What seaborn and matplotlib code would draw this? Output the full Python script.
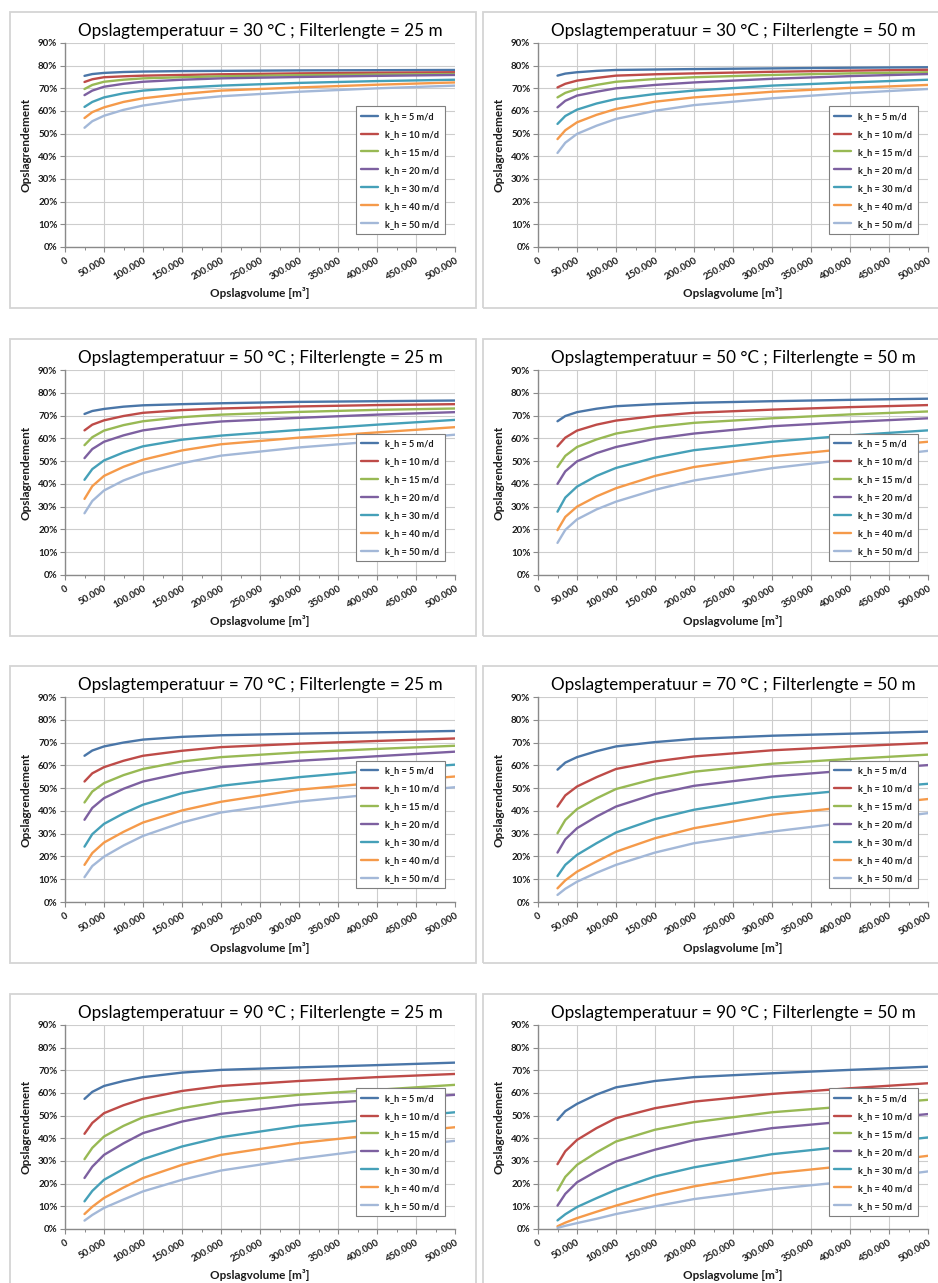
import numpy as np
import pandas as pd
import matplotlib
matplotlib.use("Agg")
import matplotlib.pyplot as plt
import seaborn as sns
from matplotlib.patches import Rectangle
from matplotlib.ticker import FuncFormatter, MultipleLocator

sns.set_theme(style="white")
plt.rcParams["font.family"] = ["Lato", "DejaVu Sans"]

# ---------------- data ----------------
volume = [25000, 35000, 50000, 75000, 100000, 150000, 200000, 300000, 400000, 500000]
k_labels = ["k_h = 5 m/d", "k_h = 10 m/d", "k_h = 15 m/d", "k_h = 20 m/d",
            "k_h = 30 m/d", "k_h = 40 m/d", "k_h = 50 m/d"]
x_tick_labels = ["0", "50.000", "100.000", "150.000", "200.000", "250.000",
                 "300.000", "350.000", "400.000", "450.000", "500.000"]
titles = [
    "Opslagtemperatuur = 30 °C ; Filterlengte = 25 m",
    "Opslagtemperatuur = 30 °C ; Filterlengte = 50 m",
    "Opslagtemperatuur = 50 °C ; Filterlengte = 25 m",
    "Opslagtemperatuur = 50 °C ; Filterlengte = 50 m",
    "Opslagtemperatuur = 70 °C ; Filterlengte = 25 m",
    "Opslagtemperatuur = 70 °C ; Filterlengte = 50 m",
    "Opslagtemperatuur = 90 °C ; Filterlengte = 25 m",
    "Opslagtemperatuur = 90 °C ; Filterlengte = 50 m",
]

# rendement (%) per k_h, values at the volumes above
t30_l25 = [
    [75.5, 76.3, 76.8, 77.2, 77.4, 77.6, 77.7, 77.9, 78.0, 78.1],
    [72.8, 74.0, 74.9, 75.3, 75.6, 75.9, 76.2, 76.6, 76.9, 77.1],
    [69.7, 71.5, 72.9, 73.8, 74.4, 74.9, 75.3, 75.8, 76.1, 76.3],
    [67.0, 69.0, 70.7, 72.0, 72.9, 73.8, 74.4, 75.0, 75.5, 75.9],
    [61.8, 64.0, 66.0, 67.8, 69.0, 70.3, 71.2, 72.4, 73.2, 73.8],
    [56.9, 59.5, 61.6, 64.0, 65.6, 67.5, 69.0, 70.4, 71.6, 72.6],
    [52.6, 55.5, 57.9, 60.5, 62.4, 64.9, 66.5, 68.5, 70.0, 71.2],
]
t30_l50 = [
    [75.6, 76.5, 77.1, 77.7, 78.1, 78.3, 78.5, 78.8, 79.1, 79.3],
    [70.4, 72.0, 73.4, 74.6, 75.6, 76.2, 76.6, 77.3, 77.8, 78.2],
    [66.0, 68.0, 69.7, 71.5, 72.9, 74.1, 74.9, 75.9, 76.6, 77.1],
    [61.6, 64.5, 66.8, 68.5, 70.0, 71.5, 72.6, 74.2, 75.4, 76.3],
    [54.3, 57.8, 60.6, 63.3, 65.3, 67.5, 69.0, 71.2, 72.6, 73.8],
    [47.6, 51.5, 55.0, 58.3, 60.9, 64.1, 66.0, 68.5, 70.2, 71.5],
    [41.5, 46.0, 49.9, 53.5, 56.5, 60.1, 62.6, 65.6, 67.9, 69.7],
]
t50_l25 = [
    [70.7, 72.0, 72.9, 73.9, 74.5, 75.0, 75.4, 76.0, 76.3, 76.6],
    [63.5, 66.0, 67.9, 69.8, 71.2, 72.4, 73.1, 74.0, 74.6, 75.0],
    [57.0, 60.5, 63.4, 65.8, 67.5, 69.3, 70.4, 71.6, 72.5, 73.1],
    [51.3, 55.3, 58.5, 61.3, 63.5, 65.8, 67.4, 69.0, 70.4, 71.5],
    [41.8, 46.5, 50.3, 53.8, 56.5, 59.4, 61.2, 63.7, 66.0, 68.1],
    [33.4, 39.0, 43.5, 47.5, 50.6, 54.7, 57.4, 60.3, 62.6, 64.9],
    [27.1, 32.5, 37.1, 41.5, 44.7, 49.1, 52.4, 56.0, 58.7, 61.6],
]
t50_l50 = [
    [67.5, 69.8, 71.5, 73.0, 74.1, 75.0, 75.6, 76.3, 76.9, 77.4],
    [56.5, 60.3, 63.4, 66.0, 67.8, 69.8, 71.2, 72.6, 73.7, 74.6],
    [47.4, 52.3, 56.2, 59.5, 62.1, 65.0, 66.8, 68.8, 70.5, 71.8],
    [40.0, 45.5, 49.9, 53.5, 56.2, 59.8, 62.1, 65.3, 67.2, 68.8],
    [27.8, 34.0, 38.8, 43.5, 47.0, 51.5, 54.8, 58.5, 61.3, 63.5],
    [19.7, 25.5, 30.0, 34.5, 38.1, 43.5, 47.4, 52.1, 55.5, 58.5],
    [14.1, 19.8, 24.4, 28.8, 32.2, 37.4, 41.5, 46.9, 50.8, 54.5],
]
t70_l25 = [
    [64.2, 66.5, 68.3, 70.0, 71.3, 72.5, 73.2, 73.9, 74.5, 75.1],
    [52.9, 56.5, 59.2, 62.0, 64.2, 66.4, 68.0, 69.5, 70.7, 71.8],
    [43.7, 48.5, 52.2, 55.7, 58.4, 61.7, 63.6, 65.7, 67.2, 68.6],
    [36.1, 41.3, 45.6, 49.7, 52.9, 56.6, 59.2, 62.0, 64.0, 66.0],
    [24.3, 29.8, 34.3, 38.9, 42.7, 47.8, 51.0, 54.8, 57.8, 60.3],
    [16.3, 21.5, 26.1, 30.8, 34.9, 40.2, 44.0, 49.3, 52.4, 55.1],
    [10.9, 15.8, 19.9, 24.8, 29.0, 34.9, 39.3, 44.1, 47.4, 50.4],
]
t70_l50 = [
    [58.1, 61.2, 63.6, 66.2, 68.3, 70.2, 71.6, 73.0, 73.9, 74.8],
    [41.9, 46.8, 50.7, 54.8, 58.4, 61.7, 63.9, 66.6, 68.3, 69.8],
    [30.2, 36.0, 40.8, 45.5, 49.6, 54.1, 57.2, 60.7, 62.8, 64.7],
    [21.7, 27.5, 32.4, 37.5, 41.9, 47.4, 51.0, 55.1, 57.8, 60.1],
    [11.4, 16.3, 20.7, 25.8, 30.5, 36.4, 40.5, 46.0, 49.2, 51.9],
    [6.0, 9.5, 13.3, 17.8, 22.1, 28.0, 32.4, 38.3, 41.8, 45.2],
    [3.1, 5.8, 8.9, 12.8, 16.3, 21.7, 25.8, 30.9, 35.0, 39.0],
]
t90_l25 = [
    [57.4, 60.5, 63.1, 65.3, 67.0, 69.0, 70.2, 71.3, 72.3, 73.4],
    [42.0, 46.8, 51.1, 54.6, 57.4, 60.9, 63.1, 65.3, 67.0, 68.4],
    [30.8, 35.8, 40.8, 45.5, 49.3, 53.3, 56.2, 59.2, 61.4, 63.6],
    [22.5, 27.5, 32.7, 37.8, 42.3, 47.4, 50.8, 54.8, 57.0, 59.2],
    [12.2, 16.8, 21.7, 26.5, 30.8, 36.4, 40.5, 45.5, 48.5, 51.5],
    [6.6, 9.8, 13.7, 18.3, 22.5, 28.3, 32.7, 37.9, 41.6, 44.9],
    [3.7, 6.2, 9.3, 13.0, 16.6, 21.7, 25.8, 31.0, 35.3, 38.9],
]
t90_l50 = [
    [48.1, 52.0, 55.2, 59.3, 62.5, 65.3, 67.0, 68.7, 70.2, 71.6],
    [28.6, 34.3, 39.3, 44.5, 48.9, 53.3, 56.2, 59.6, 62.1, 64.3],
    [17.0, 23.0, 28.3, 33.8, 38.6, 43.8, 47.1, 51.5, 54.2, 57.0],
    [10.3, 15.5, 20.6, 25.5, 29.8, 35.0, 39.2, 44.5, 47.6, 50.7],
    [3.8, 6.5, 9.7, 13.6, 17.3, 23.2, 27.2, 33.0, 36.6, 40.4],
    [1.2, 2.8, 4.8, 7.6, 10.3, 15.1, 18.8, 24.5, 28.0, 32.3],
    [0.5, 1.4, 2.6, 4.5, 6.6, 10.0, 13.2, 17.6, 21.0, 25.4],
]
panels = [t30_l25, t30_l50, t50_l25, t50_l50, t70_l25, t70_l50, t90_l25, t90_l50]

colors = ["#4A76A8", "#BE4B48", "#98B954", "#7D60A0", "#45A0B8", "#F59A4A", "#A3B8D8"]

# ---------------- layout (pixels) ----------------
W, H = 938, 1283
col_plot_x = [(65, 455), (538, 928)]
row_plot_y = [(43, 247), (370, 575), (697, 902), (1025, 1229)]
col_box_x = [(10, 476), (483, 950)]
row_box_y = [(12, 308), (339, 636), (666, 963), (994, 1300)]

fig = plt.figure(figsize=(W / 100, H / 100), dpi=100)
fig.patch.set_facecolor("white")

txt_color = "#1a1a1a"

for i, (title, data) in enumerate(zip(titles, panels)):
    r, c = divmod(i, 2)
    bx0, bx1 = col_box_x[c]
    by0, by1 = row_box_y[r]
    fig.add_artist(Rectangle((bx0 / W, 1 - by1 / H), (bx1 - bx0) / W, (by1 - by0) / H,
                             transform=fig.transFigure, fill=False,
                             edgecolor="#D4D4D4", linewidth=1.3))
    x0, x1 = col_plot_x[c]
    y0, y1 = row_plot_y[r]
    ax = fig.add_axes([x0 / W, 1 - y1 / H, (x1 - x0) / W, (y1 - y0) / H])

    rows = []
    for lab, vals in zip(k_labels, data):
        for v, val in zip(volume, vals):
            rows.append({"volume": v, "rendement": val, "k": lab})
    df = pd.DataFrame(rows)
    sns.lineplot(data=df, x="volume", y="rendement", hue="k", hue_order=k_labels,
                 palette=colors, linewidth=1.7, ax=ax, legend=True, sort=True)

    ax.set_xlim(0, 500000)
    ax.set_ylim(0, 90)
    ax.xaxis.set_minor_locator(MultipleLocator(25000))
    ax.yaxis.set_major_locator(MultipleLocator(10))
    ax.set_xticks(np.arange(0, 500001, 50000))
    ax.set_xticklabels(x_tick_labels)
    ax.yaxis.set_major_formatter(FuncFormatter(lambda v, p: f"{v:.0f}%"))

    ax.grid(True, which="major", color="#CDCDCD", linewidth=0.8)
    ax.set_axisbelow(True)
    for s in ["top", "right"]:
        ax.spines[s].set_visible(False)
    for s in ["left", "bottom"]:
        ax.spines[s].set_color("#8A8A8A")
        ax.spines[s].set_linewidth(1.0)

    ax.tick_params(axis="both", which="major", direction="out", length=3.5,
                   width=0.8, color="#8A8A8A", labelsize=7, labelcolor=txt_color,
                   bottom=True, left=True)
    ax.tick_params(axis="x", which="minor", direction="out", length=2,
                   width=0.7, color="#8A8A8A", bottom=True)
    ax.tick_params(axis="x", pad=3)
    ax.tick_params(axis="y", pad=2)
    for lab in ax.get_xticklabels():
        lab.set_rotation(30)
        lab.set_ha("right")
        lab.set_va("top")
        lab.set_rotation_mode("anchor")
        lab.set_fontweight("bold")
    for lab in ax.get_yticklabels():
        lab.set_fontweight("bold")

    ax.set_title(title, fontsize=12.3, color="black", pad=5)
    ax.set_xlabel("Opslagvolume [m³]", fontsize=8.5, fontweight="bold", color=txt_color)
    ax.set_ylabel("Opslagrendement", fontsize=8.5, fontweight="bold", color=txt_color)
    ax.xaxis.set_label_coords(0.5, -0.225)
    ax.xaxis.label.set_va("center")
    ax.yaxis.set_label_coords(-0.1, 0.5)
    ax.yaxis.label.set_va("center")

    handles, labels = ax.get_legend_handles_labels()
    leg = ax.legend(handles, labels, loc="upper left", bbox_to_anchor=(0.745, 0.69),
                    frameon=True, fancybox=False, framealpha=1, edgecolor="#7F7F7F",
                    prop={"weight": "bold", "size": 6.6}, handlelength=1.8,
                    labelspacing=0.98, borderpad=0.6, handletextpad=0.8,
                    borderaxespad=0)
    leg.get_frame().set_linewidth(0.8)
    for t in leg.get_texts():
        t.set_color(txt_color)
    for lh in leg.get_lines():
        lh.set_linewidth(1.7)

fig.savefig("out.png", dpi=100, facecolor="white")
